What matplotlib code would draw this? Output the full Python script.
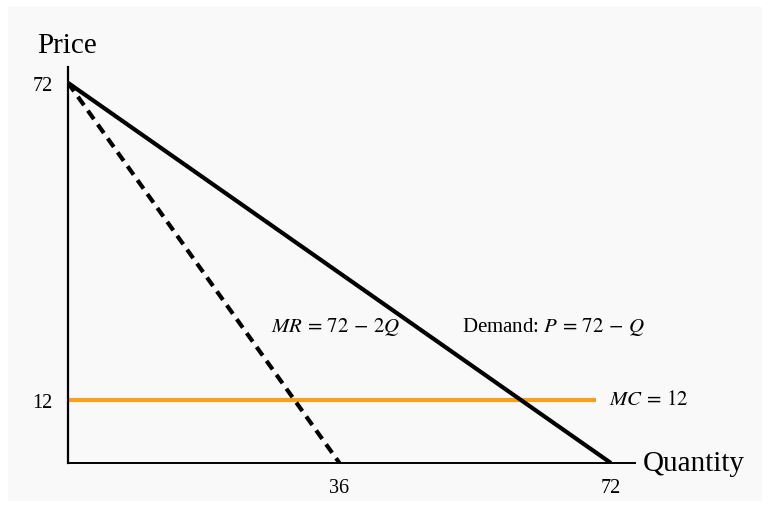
import matplotlib
matplotlib.use('Agg')
import matplotlib.pyplot as plt
from matplotlib.patches import Rectangle

plt.rcParams['font.family'] = ['Liberation Serif', 'DejaVu Serif']
plt.rcParams['mathtext.fontset'] = 'stix'

# curves: demand P = 72 - Q, MR = 72 - 2Q, MC = 12
demand_q = [0, 72]
demand_p = [72, 0]
mr_q = [0, 36]
mr_p = [72, 0]
mc_q = [0, 70]
mc_p = [12, 12]

x_ticks = [36, 72]
y_ticks = [12, 72]

fig = plt.figure(figsize=(7.7, 5.1), dpi=100)
fig.patch.set_facecolor('white')
fig.patches.append(Rectangle((8 / 770, 8 / 510), 754 / 770, 494 / 510,
                             transform=fig.transFigure, facecolor='#f9f9f9',
                             edgecolor='none', zorder=-10))

ax = fig.add_axes([68 / 770, 46 / 510, 567 / 770, 396 / 510])
ax.set_facecolor('none')

ax.plot(demand_q, demand_p, color='black', lw=3, solid_capstyle='butt', zorder=3)
ax.plot(mr_q, mr_p, color='black', lw=3, linestyle=(0, (2.5, 1.6)), zorder=3)
ax.plot(mc_q, mc_p, color='#f5a11c', lw=3, solid_capstyle='butt', zorder=2)

ax.set_xlim(0, 75.2)
ax.set_ylim(0, 75.0)

for s in ['top', 'right']:
    ax.spines[s].set_visible(False)
ax.spines['left'].set_linewidth(1.6)
ax.spines['bottom'].set_linewidth(1.4)

ax.set_xticks(x_ticks)
ax.set_yticks(y_ticks)
ax.tick_params(length=0, labelsize=14.5, pad=11)

ax.text(26.9, 26.0, r'$MR\,=\,72\,-\,2Q$', fontsize=15, ha='left', va='center')
ax.text(52.2, 26.0, r'Demand: $P\,=\,72\,-\,Q$', fontsize=15, ha='left', va='center')
ax.text(71.8, 12, r'$MC\,=\,12$', fontsize=15, ha='left', va='center')

fig.text(37 / 770, 1 - 46 / 510, 'Price', fontsize=21, ha='left', va='center')
fig.text(643 / 770, 1 - 464 / 510, 'Quantity', fontsize=21, ha='left', va='center')

plt.savefig('out.png', dpi=100)
